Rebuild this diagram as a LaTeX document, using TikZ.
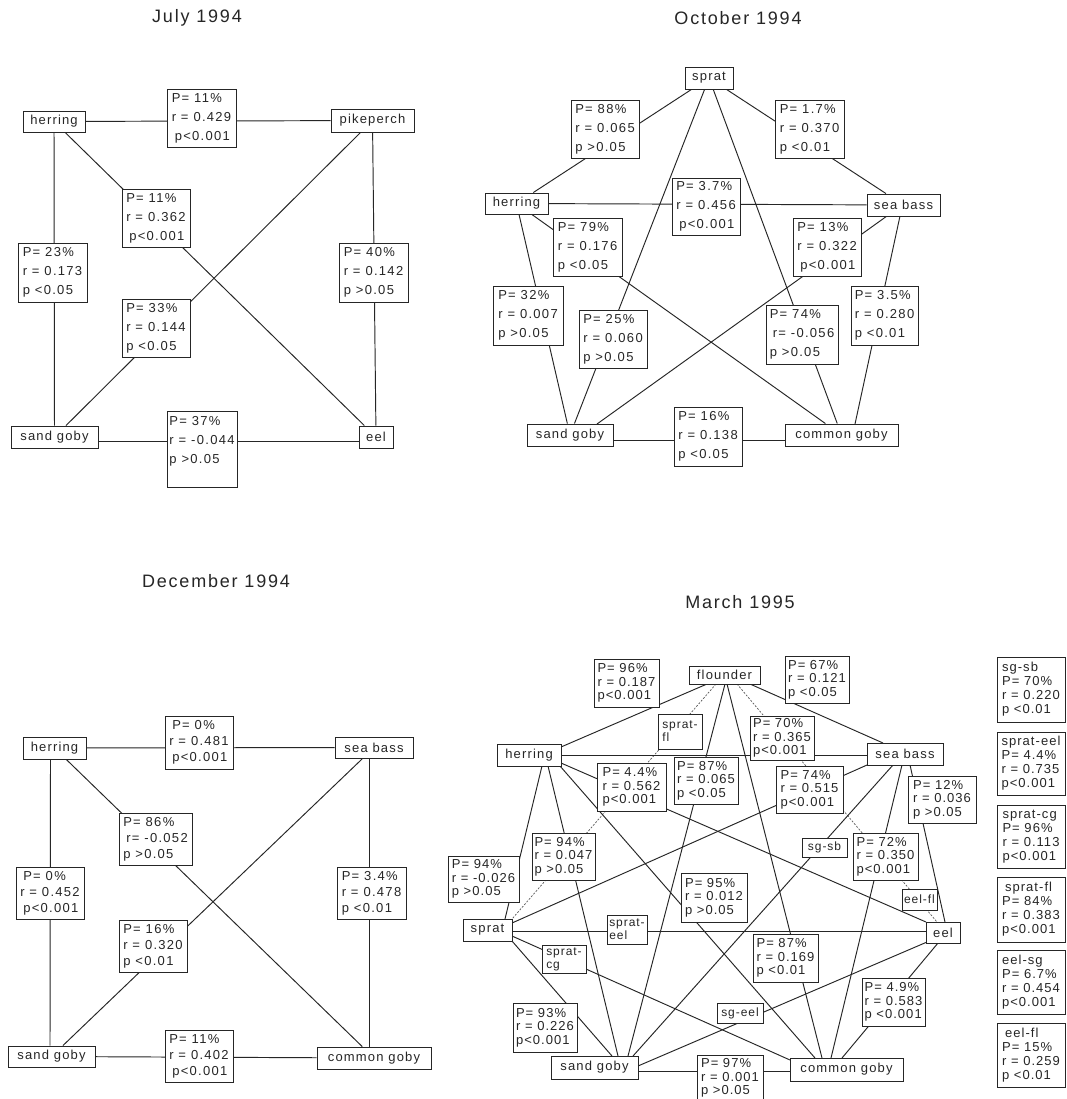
\documentclass[tikz,border=0pt]{standalone}
\usepackage{fontspec}
\setmainfont{Liberation Sans}
\newfontfamily\labff[LetterSpace=10]{Liberation Sans}
\newfontfamily\labmf[LetterSpace=8]{Liberation Sans}
\newfontfamily\spff[LetterSpace=9]{Liberation Sans}
\usetikzlibrary{calc,backgrounds}
\definecolor{ink}{gray}{0.15}
\begin{document}
\begin{tikzpicture}[x=1pt,y=-1pt,
  sp/.style 2 args={draw=ink, fill=white, line width=0.9pt, inner sep=0pt, minimum width=#1pt, minimum height=#2pt, text=ink, font=\spff\fontsize{13}{15}\selectfont},
  lab/.style={draw=ink, fill=white, line width=0.9pt, inner xsep=2pt, inner ysep=0pt, align=left, text=ink},
  labA/.style 2 args={lab, minimum width=#1pt, minimum height=#2pt, font=\labff\fontsize{13}{19}\selectfont},
  labD/.style 2 args={lab, minimum width=#1pt, minimum height=#2pt, font=\labff\fontsize{13}{16}\selectfont},
  labM/.style 2 args={lab, minimum width=#1pt, minimum height=#2pt, font=\labmf\fontsize{13}{13.5}\selectfont},
  labS/.style 2 args={lab, inner xsep=1pt, minimum width=#1pt, minimum height=#2pt, font=\labmf\fontsize{12}{13}\selectfont},
  labR/.style 2 args={lab, minimum width=#1pt, minimum height=#2pt, font=\labmf\fontsize{13}{14}\selectfont},
  conn/.style={draw=ink, line width=0.95pt},
  dsh/.style={draw=black!65, line width=0.7pt, dash pattern=on 2pt off 1.5pt},
  ttl/.style={text=ink, font=\labff\fontsize{18}{20}\selectfont}]
\useasboundingbox (0,0) rectangle (1066,1099);

% ---------------- July 1994 ----------------
\node[ttl] (tJ) at (197,18) {July 1994};
\node[sp={62}{21}] (jH) at (54,121.5) {herring};
\node[sp={83}{23}] (jP) at (372.5,120.5) {pikeperch};
\node[sp={87}{22}] (jS) at (54.5,437) {sand goby};
\node[sp={34}{22}] (jE) at (376,437) {eel};
\node[labA={69}{58}] (jHP) at (201.5,118) {P= 11\%\\r = 0.429\\\hspace*{3pt}p<0.001};
\node[labA={68}{58}] (jHE) at (156,218) {P= 11\%\\r = 0.362\\\hspace*{3pt}p<0.001};
\node[labA={69}{59}] (jHS) at (52.5,272.5) {P= 23\%\\r = 0.173\\p <0.05};
\node[labA={69}{59}] (jPE) at (373.5,272.5) {P= 40\%\\r = 0.142\\p >0.05};
\node[labA={68}{58}] (jPS) at (156,328) {P= 33\%\\r = 0.144\\p <0.05};
\node[labA={70}{76}] (jSE) at (202,449) {P= 37\%\\r = -0.044\\p >0.05\\\mbox{}};

% ---------------- October 1994 ----------------
\node[ttl] (tO) at (738,18) {October 1994};
\node[sp={48}{22}] (oSp) at (709,78) {sprat};
\node[sp={63}{21}] (oH) at (516.5,203.5) {herring};
\node[sp={73}{22}] (oSb) at (903.5,205) {sea bass};
\node[sp={86}{22}] (oSg) at (570,435) {sand goby};
\node[sp={113}{22}] (oCg) at (841.5,435) {common goby};
\node[labA={68}{58}] (oL1) at (605,129) {P= 88\%\\r = 0.065\\p >0.05};
\node[labA={69}{58}] (oL2) at (809.5,129) {P= 1.7\%\\r = 0.370\\p <0.01};
\node[labA={68}{57}] (oL3) at (706,206.5) {P= 3.7\%\\r = 0.456\\\hspace*{3pt}p<0.001};
\node[labA={69}{58}] (oL4) at (587.5,247) {P= 79\%\\r = 0.176\\p <0.05};
\node[labA={68}{58}] (oL5) at (827,247) {P= 13\%\\r = 0.322\\\hspace*{3pt}p<0.001};
\node[labA={70}{59}] (oL6) at (528,315.5) {P= 32\%\\r = 0.007\\p >0.05};
\node[labA={68}{58}] (oL7) at (613,339) {P= 25\%\\r = 0.060\\p >0.05};
\node[labA={72}{59}] (oL8) at (802,334.5) {P= 74\%\\\hspace*{3pt}r= -0.056\\p >0.05};
\node[labA={67}{59}] (oL9) at (884.5,315.5) {P= 3.5\%\\r = 0.280\\p <0.01};
\node[labA={68}{59}] (oL10) at (708,436.5) {P= 16\%\\r = 0.138\\p <0.05};

% ---------------- December 1994 ----------------
\node[ttl] (tD) at (216,581) {December 1994};
\node[sp={63}{22}] (dH) at (54.5,748) {herring};
\node[sp={78}{21}] (dSb) at (374,747.5) {sea bass};
\node[sp={87}{21}] (dSg) at (51.5,1056.5) {sand goby};
\node[sp={114}{22}] (dCg) at (374,1058) {common goby};
\node[labD={68}{53}] (dL1) at (199,742.5) {\hspace*{3pt}P= 0\%\\r = 0.481\\\hspace*{3pt}p<0.001};
\node[labD={73}{52}] (dL2) at (155.5,839) {P= 86\%\\\hspace*{3pt}r= -0.052\\p >0.05};
\node[labD={68}{52}] (dL3) at (50,893) {\hspace*{3pt}P= 0\%\\r = 0.452\\\hspace*{3pt}p<0.001};
\node[labD={69}{52}] (dL4) at (371.5,893) {P= 3.4\%\\r = 0.478\\p <0.01};
\node[labD={68}{52}] (dL5) at (153,946) {P= 16\%\\r = 0.320\\p <0.01};
\node[labD={68}{52}] (dL6) at (199,1056) {P= 11\%\\r = 0.402\\\hspace*{3pt}p<0.001};

% ---------------- March 1995 ----------------
\node[ttl] (tM) at (740,602) {March 1995};
\node[sp={71}{18}] (mF) at (724.5,675) {flounder};
\node[sp={64}{22}] (mH) at (529,755) {herring};
\node[sp={76}{22}] (mSb) at (905,754) {sea bass};
\node[sp={49}{22}] (mSp) at (487.5,930) {sprat};
\node[sp={34}{21}] (mE) at (943,932.5) {eel};
\node[sp={87}{23}] (mSg) at (594.5,1067.5) {sand goby};
\node[sp={113}{23}] (mCg) at (846.5,1069.5) {common goby};
\node[labM={65}{48}] (mL1) at (626.5,683) {P= 96\%\\r = 0.187\\p<0.001};
\node[labM={64}{47}] (mL2) at (817,679.5) {P= 67\%\\r = 0.121\\p <0.05};
\node[labS={44}{35}] (mL3) at (680,731.5) {sprat-\\fl};
\node[labM={64}{44}] (mL4) at (782,738) {P= 70\%\\r = 0.365\\p<0.001};
\node[labM={69}{48}] (mL5) at (631.5,787) {P= 4.4\%\\r = 0.562\\p<0.001};
\node[labM={64}{47}] (mL6) at (706,780.5) {P= 87\%\\r = 0.065\\p <0.05};
\node[labM={67}{47}] (mL7) at (809.5,789.5) {P= 74\%\\r = 0.515\\p<0.001};
\node[labM={68}{47}] (mL8) at (942,799.5) {P= 12\%\\r = 0.036\\p >0.05};
\node[labM={63}{47}] (mL9) at (563.5,856.5) {P= 94\%\\r = 0.047\\p >0.05};
\node[labM={71}{46}] (mL10) at (483.5,879) {P= 94\%\\r = -0.026\\p >0.05};
\node[labM={66}{49}] (mL11) at (714,897.5) {P= 95\%\\r = 0.012\\p >0.05};
\node[labS={45}{19}] (mL12) at (824.5,847.5) {sg-sb};
\node[labM={65}{47}] (mL13) at (885.5,856.5) {P= 72\%\\r = 0.350\\p<0.001};
\node[labS={35}{21}] (mL14) at (919.5,899.5) {eel-fl};
\node[labS={40}{29}] (mL15) at (627,929.5) {sprat-\\eel};
\node[labS={44}{28}] (mL16) at (564,959) {sprat-\\cg};
\node[labM={65}{48}] (mL17) at (785.5,958) {P= 87\%\\r = 0.169\\p <0.01};
\node[labM={63}{48}] (mL18) at (893.5,1002) {P= 4.9\%\\r = 0.583\\p <0.001};
\node[labM={64}{49}] (mL19) at (545,1027.5) {P= 93\%\\r = 0.226\\p<0.001};
\node[labS={46}{20}] (mL20) at (740,1013) {sg-eel};
\node[labM={66}{46}] (mL21) at (730,1078) {P= 97\%\\r = 0.001\\p >0.05};

% right column
\node[labR={68}{65}] (R1) at (1031,689.5) {sg-sb\\P= 70\%\\r = 0.220\\p <0.01};
\node[labR={68}{63}] (R2) at (1031,763.5) {sprat-eel\\P= 4.4\%\\r = 0.735\\p<0.001};
\node[labR={68}{63}] (R3) at (1031,836.5) {sprat-cg\\P= 96\%\\r = 0.113\\p<0.001};
\node[labR={68}{65}] (R4) at (1031,909.5) {\hspace*{3pt}sprat-fl\\P= 84\%\\r = 0.383\\p<0.001};
\node[labR={68}{64}] (R5) at (1031,982) {eel-sg\\P= 6.7\%\\r = 0.454\\p<0.001};
\node[labR={68}{64}] (R6) at (1031,1055) {\hspace*{3pt}eel-fl\\P= 15\%\\r = 0.259\\p <0.01};

% ---------------- connectors ----------------
\begin{scope}[on background layer]
\fill[white] (0,0) rectangle (1066,1099);
% July
\draw[conn] (jH) -- (jP);
\draw[conn] (jH) -- (jE);
\draw[conn] (jH) -- (jS);
\draw[conn] (jP) -- (jE);
\draw[conn] (jP) -- (jS);
\draw[conn] ($(jS.east)+(0,4)$) -- ($(jE.west)+(0,4)$);
% October
\draw[conn] (oH) -- (oSp);
\draw[conn] (oSp) -- (oSb);
\draw[conn] (oH) -- (oSb);
\draw[conn] (oH) -- (oCg);
\draw[conn] ($(oSb)+(-16.5,11)$) -- ($(oSg)+(27,-11)$);
\draw[conn] (oH) -- (oSg);
\draw[conn] (oSp) -- (oSg);
\draw[conn] (oSp) -- (oCg);
\draw[conn] ($(oSb)+(-3.5,11)$) -- ($(oCg)+(13.5,-11)$);
\draw[conn] ($(oSg.east)+(0,5)$) -- ($(oCg.west)+(0,5)$);
% December
\draw[conn] (dH) -- (dSb);
\draw[conn] (dH) -- (dCg);
\draw[conn] ($(dH.south)+(-4,0)$) -- ($(dSg.north)+(-1.5,0)$);
\draw[conn] ($(dSb.south)+(-5,0)$) -- ($(dCg.north)+(-5,0)$);
\draw[conn] (dSb) -- (dSg);
\draw[conn] (dSg) -- (dCg);
% March
\draw[conn] ($(mF)+(-17.5,9)$) -- ($(mH)+(32,-8)$);
\draw[dsh] ($(mF)+(-8.5,9)$) -- ($(mSp)+(24.5,-11)$);
\draw[conn] ($(mF)+(0.5,9)$) -- ($(mSg)+(33.5,-11.5)$);
\draw[conn] ($(mF)+(2.5,9)$) -- ($(mCg)+(-24.5,-11.5)$);
\draw[dsh] ($(mF)+(12.5,9)$) -- ($(mE)+(-6,-10.5)$);
\draw[conn] ($(mF)+(25.5,9)$) -- ($(mSb)+(-22,-11)$);
\draw[conn] ($(mH)+(32,0)$) -- ($(mSb)+(-38,1)$);
\draw[conn] ($(mH)+(32,8)$) -- ($(mE)+(-17,-10.5)$);
\draw[conn] ($(mH)+(13,11)$) -- ($(mSp)+(17.5,-11)$);
\draw[conn] ($(mH)+(19,11)$) -- ($(mSg)+(23.5,-11.5)$);
\draw[conn] ($(mH)+(31,11)$) -- ($(mCg)+(-31.5,-11.5)$);
\draw[conn] ($(mSb)+(-38,11)$) -- ($(mSp)+(24.5,-7)$);
\draw[conn] ($(mSb)+(-12,11)$) -- ($(mSg)+(38.5,-11.5)$);
\draw[conn] ($(mSb)+(-3,11)$) -- ($(mCg)+(-15.5,-11.5)$);
\draw[conn] ($(mSb)+(5,11)$) -- ($(mE)+(2,-10.5)$);
\draw[conn] ($(mSp)+(24.5,1)$) -- ($(mE)+(-17,-1.5)$);
\draw[conn] ($(mSp)+(24.5,6)$) -- ($(mCg)+(-56.5,-9.5)$);
\draw[conn] ($(mSp)+(24.5,11)$) -- ($(mSg)+(17.5,-11.5)$);
\draw[conn] ($(mE)+(-16,9.5)$) -- ($(mSg)+(43.5,-1.5)$);
\draw[conn] ($(mE)+(-5,10.5)$) -- ($(mCg)+(-4.5,-11.5)$);
\draw[conn] ($(mSg)+(43.5,3.5)$) -- ($(mCg)+(-56.5,1.5)$);
\end{scope}
\end{tikzpicture}
\end{document}
